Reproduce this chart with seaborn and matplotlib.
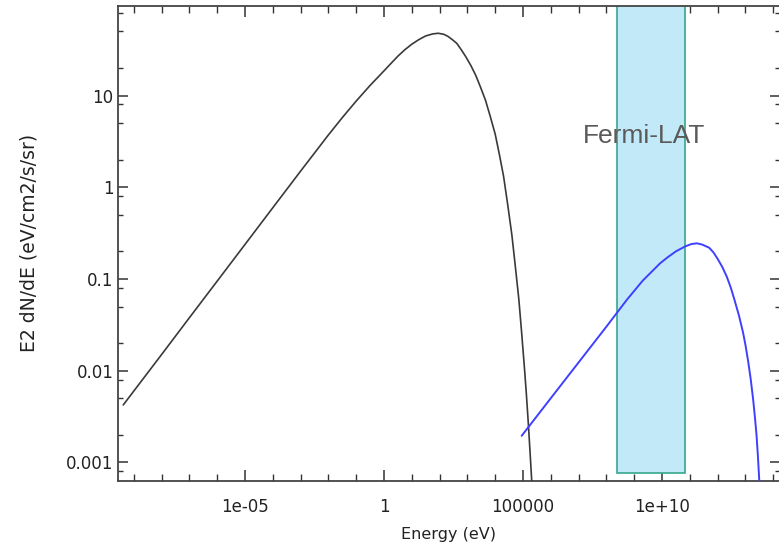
import numpy as np
import pandas as pd
import matplotlib
matplotlib.use("Agg")
import matplotlib.pyplot as plt
import seaborn as sns
from matplotlib.ticker import FixedLocator, FixedFormatter, LogLocator, NullFormatter
from matplotlib.patches import Rectangle

# ---- data ----
sync_energy = [4.17e-10, 1e-8, 1e-7, 1e-6, 1e-5, 1e-4, 1e-3, 1e-2, 3.16e-2, 0.1, 0.316, 1.0,
               1.78, 3.16, 5.62, 10.0, 17.8, 31.6, 56.2, 89.1, 141.0, 200.0, 282.0, 412.0,
               603.0, 891.0, 1318.0, 2.0e3, 2951.0, 4.47e3, 6607.0,
               1.0e4, 1.41e4, 2.0e4, 2.82e4, 3.98e4, 5.25e4, 7.08e4, 8.91e4, 1.12e5,
               1.32e5, 1.55e5, 1.78e5, 2.06e5, 2.19e5]
sync_flux = [4.23e-3, 1.50e-2, 3.78e-2, 9.48e-2, 0.238, 0.598, 1.50, 3.72, 5.75, 8.71, 12.9, 18.6,
             22.4, 26.9, 31.6, 36.3, 40.7, 44.7, 47.0, 47.8, 46.6, 44.2, 40.9, 37.2,
             31.6, 26.3, 21.4, 16.6, 12.4, 8.91, 5.96,
             3.80, 2.29, 1.32, 0.646, 0.302, 0.141, 0.0603, 0.0263, 0.011,
             5.62e-3, 2.69e-3, 1.35e-3, 6.31e-4, 4.47e-4]

ic_energy = [8.97e4, 1e6, 1e7, 1e8, 5.37e8, 2.0e9, 8.51e9, 1.58e10, 3.16e10, 6.76e10, 1.12e11,
             1.78e11, 2.82e11, 5.01e11, 7.08e11, 1e12, 1.48e12, 2.14e12, 2.95e12, 3.98e12,
             5.89e12, 8.32e12, 1.02e13, 1.26e13, 1.55e13, 1.91e13, 2.19e13, 2.51e13,
             2.82e13, 3.16e13, 3.31e13]
ic_flux = [1.95e-3, 5.01e-3, 1.23e-2, 3.02e-2, 5.90e-2, 9.55e-2, 0.148, 0.172, 0.200, 0.226, 0.240,
           0.245, 0.237, 0.219, 0.195, 0.166, 0.135, 0.106, 0.0813, 0.0603,
           0.0398, 0.0257, 0.0186, 0.0126, 8.13e-3, 4.79e-3, 3.16e-3, 2.0e-3,
           1.17e-3, 6.31e-4, 4.47e-4]

band_energy = [2.47e8, 6.8e10]
band_flux = [7.6e-4, 1e3]
band_label = "Fermi-LAT"

x_ticks = [1e-5, 1.0, 1e5, 1e10]
x_tick_labels = ["1e-05", "1", "100000", "1e+10"]
y_ticks = [1e-3, 1e-2, 1e-1, 1.0, 10.0]
y_tick_labels = ["0.001", "0.01", "0.1", "1", "10"]

sns.set_theme(style="white")
plt.rcParams["font.family"] = ["DejaVu Sans"]

W, H = 779, 557
fig = plt.figure(figsize=(W / 100, H / 100), dpi=100)
left, right, bottom, top = 117.7, 780.0, 481.0, 5.7
ax = fig.add_axes([left / W, (H - bottom) / H, (right - left) / W, (bottom - top) / H])
ax.set_xscale("log")
ax.set_yscale("log")
ax.set_xlim(10 ** -9.579, 10 ** 14.245)
ax.set_ylim(10 ** -3.203, 10 ** 1.980)

# band
ax.add_patch(Rectangle((band_energy[0], band_flux[0]), band_energy[1] - band_energy[0],
                       band_flux[1] - band_flux[0], facecolor="#c2e9f8",
                       edgecolor="#35a88c", linewidth=1.2, zorder=1))

df_sync = pd.DataFrame({"energy": sync_energy, "flux": sync_flux})
df_ic = pd.DataFrame({"energy": ic_energy, "flux": ic_flux})
sns.lineplot(data=df_sync, x="energy", y="flux", ax=ax, color="#3a3a3a", linewidth=1.2,
             sort=False, estimator=None, zorder=3)
sns.lineplot(data=df_ic, x="energy", y="flux", ax=ax, color="#3f3fff", linewidth=1.4,
             sort=False, estimator=None, zorder=3)

ax.text(2.25e9, 3.62, band_label, ha="center", va="center", fontsize=19,
        color="#5a5a5a", family=["Liberation Sans", "DejaVu Sans"], zorder=4)

ax.xaxis.set_major_locator(FixedLocator(x_ticks))
ax.xaxis.set_major_formatter(FixedFormatter(x_tick_labels))
ax.xaxis.set_minor_locator(LogLocator(base=10, subs=[1.0], numticks=100))
ax.xaxis.set_minor_formatter(NullFormatter())
ax.yaxis.set_major_locator(FixedLocator(y_ticks))
ax.yaxis.set_major_formatter(FixedFormatter(y_tick_labels))
ax.yaxis.set_minor_locator(LogLocator(base=10, subs=[2.0, 5.0, 8.0], numticks=100))
ax.yaxis.set_minor_formatter(NullFormatter())

ax.tick_params(axis="x", which="major", direction="in", length=8, width=1.1, color="#333333",
               top=True, bottom=True, labelsize=12, labelcolor="#222222", pad=12)
ax.tick_params(axis="x", which="minor", direction="in", length=4.8, width=1.0, color="#333333",
               top=True, bottom=True)
ax.tick_params(axis="y", which="major", direction="in", length=7, width=1.1, color="#333333",
               left=True, right=True, labelsize=12, labelcolor="#222222", pad=3)
ax.tick_params(axis="y", which="minor", direction="in", length=3.4, width=1.0, color="#333333",
               left=True, right=True)

for s in ax.spines.values():
    s.set_color("#444444")
    s.set_linewidth(1.3)

ax.set_xlabel("Energy (eV)", fontsize=11.5, color="#222222", labelpad=8)
ax.set_ylabel("E2 dN/dE (eV/cm2/s/sr)", fontsize=13.5, color="#222222", labelpad=20)

fig.savefig("out.png", dpi=100)
